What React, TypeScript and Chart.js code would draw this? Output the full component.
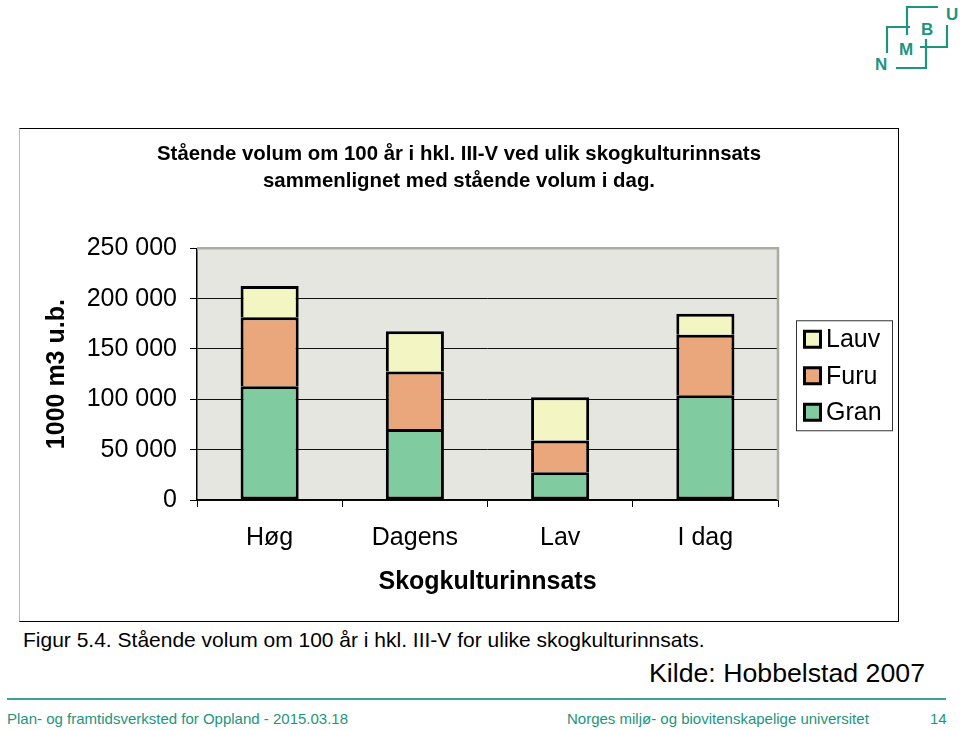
import React, { useEffect, useRef } from "react";
import { Chart, registerables } from "chart.js";

Chart.register(...registerables);

const categories = ["Høg", "Dagens", "Lav", "I dag"];
const granValues = [113000, 70500, 27500, 104000];
const furuValues = [68500, 57000, 31500, 60000];
const lauvValues = [31000, 40000, 43000, 21000];
const yTicks = [0, 50000, 100000, 150000, 200000, 250000];
const seriesNames = ["Gran", "Furu", "Lauv"];
const seriesColors = ["#80cba0", "#eba77c", "#f3f6c2"];

const titleLines = [
  "Stående volum om 100 år i hkl. III-V ved ulik skogkulturinnsats",
  "sammenlignet med stående volum i dag.",
];
const yTitle = "1000 m3 u.b.";
const xTitle = "Skogkulturinnsats";

const FONT = "'Liberation Sans', Arial, sans-serif";
const TEAL = "#1d957e";

const fmt = (v: number) => String(v).replace(/\B(?=(\d{3})+(?!\d))/g, " ");

const plotBg = {
  id: "plotBg",
  beforeDraw(chart: any) {
    const { ctx, chartArea: a } = chart;
    ctx.save();
    ctx.fillStyle = "#e4e6df";
    ctx.fillRect(a.left, a.top, a.right - a.left, a.bottom - a.top);
    ctx.restore();
  },
  beforeDatasetsDraw(chart: any) {
    const { ctx, chartArea: a } = chart;
    ctx.save();
    ctx.strokeStyle = "#a9ad9f";
    ctx.lineWidth = 2.5;
    ctx.beginPath();
    ctx.moveTo(a.left, a.top);
    ctx.lineTo(a.right, a.top);
    ctx.lineTo(a.right, a.bottom);
    ctx.stroke();
    ctx.restore();
  },
};

const boxLegend = {
  id: "boxLegend",
  afterDraw(chart: any) {
    const { ctx, chartArea: a } = chart;
    const left = a.right + 18;
    const top = a.top + 72;
    const w = 96;
    const h = 110;
    ctx.save();
    ctx.fillStyle = "#ffffff";
    ctx.fillRect(left, top, w, h);
    ctx.strokeStyle = "#333";
    ctx.lineWidth = 1;
    ctx.strokeRect(left + 0.5, top + 0.5, w, h);
    const ds = chart.data.datasets.slice().reverse();
    ds.forEach((d: any, i: number) => {
      const cy = top + 19 + i * 36.5;
      ctx.fillStyle = d.backgroundColor;
      ctx.fillRect(left + 8, cy - 8.5, 17, 17);
      ctx.strokeStyle = "#000";
      ctx.lineWidth = 3;
      ctx.strokeRect(left + 8.5, cy - 8, 16, 16);
      ctx.fillStyle = "#000";
      ctx.font = `25px ${FONT}`;
      ctx.textBaseline = "middle";
      ctx.textAlign = "left";
      ctx.fillText(d.label, left + 30, cy + 1);
    });
    ctx.restore();
  },
};

function StackedChart() {
  const ref = useRef<HTMLCanvasElement | null>(null);
  useEffect(() => {
    if (!ref.current) return;
    const values = [granValues, furuValues, lauvValues];
    const chart = new Chart(ref.current, {
      type: "bar",
      data: {
        labels: categories,
        datasets: seriesNames.map((name, i) => ({
          label: name,
          data: values[i],
          backgroundColor: seriesColors[i],
          borderColor: "#000",
          borderWidth: i === 0 ? 3 : { top: 3, left: 3, right: 3, bottom: 0 },
          borderSkipped: false,
          barPercentage: 0.4,
          categoryPercentage: 1,
        })),
      },
      options: {
        animation: false,
        responsive: true,
        maintainAspectRatio: false,
        layout: { padding: { left: 0, right: 0, top: 0, bottom: 21 } },
        plugins: {
          legend: { display: false },
          tooltip: { enabled: false },
          title: {
            display: true,
            text: titleLines,
            color: "#000",
            font: { family: FONT, size: 20.4, weight: "bold", lineHeight: 1.33 },
            padding: { top: 12, bottom: 53 },
          },
        },
        scales: {
          x: {
            stacked: true,
            offset: true,
            grid: {
              offset: true,
              drawOnChartArea: false,
              drawTicks: true,
              tickLength: 7,
              color: "#000",
              lineWidth: 1,
            },
            border: { display: true, color: "#000", width: 1.5 },
            ticks: {
              color: "#000",
              font: { family: FONT, size: 25 },
              padding: 16,
            },
            title: {
              display: true,
              text: xTitle,
              color: "#000",
              font: { family: FONT, size: 25, weight: "bold", lineHeight: 1.2 },
              padding: { top: 0, bottom: 3 },
            },
            afterFit(scale: any) {
              scale.height = 100;
            },
          },
          y: {
            stacked: true,
            min: 0,
            max: 250000,
            afterBuildTicks(scale: any) {
              scale.ticks = yTicks.map((v) => ({ value: v }));
            },
            grid: {
              color: (c: any) => (c.tick && c.tick.value === 250000 ? "rgba(0,0,0,0)" : "#111"),
              lineWidth: 1,
              drawTicks: true,
              tickLength: 7,
              tickColor: "#000",
            },
            border: { display: true, color: "#000", width: 1.5 },
            ticks: {
              color: "#000",
              font: { family: FONT, size: 25 },
              padding: 13,
              callback: (v: any) => fmt(Number(v)),
            },
            title: {
              display: true,
              text: yTitle,
              color: "#000",
              font: { family: FONT, size: 25, weight: "bold", lineHeight: 1.2 },
              padding: { top: 22, bottom: 0 },
            },
            afterFit(scale: any) {
              scale.width = 177;
            },
          },
          legendSpace: {
            type: "linear",
            position: "right",
            display: true,
            min: 0,
            max: 250000,
            grid: { drawOnChartArea: false, drawTicks: false },
            border: { display: false },
            ticks: { display: false },
            afterFit(scale: any) {
              scale.width = 120;
            },
          },
        },
      },
      plugins: [plotBg, boxLegend],
    } as any);
    return () => chart.destroy();
  }, []);
  return <canvas ref={ref} />;
}

function Logo() {
  const s = { stroke: TEAL, strokeWidth: 2.2, fill: "none" };
  const t = { fill: TEAL, fontFamily: FONT, fontWeight: "bold" as const, fontSize: 17 };
  return (
    <svg width="100" height="80" viewBox="860 0 100 80" style={{ position: "absolute", left: 860, top: 0 }}>
      <polyline points="938,7 907,7 907,35" {...s} />
      <polyline points="910,27 887,27 887,53" {...s} />
      <polyline points="947,25 947,47 920,47" {...s} />
      <polyline points="926,39 926,68 896,68" {...s} />
      <text x="921" y="35" {...t}>B</text>
      <text x="946" y="20" {...t}>U</text>
      <text x="899" y="55" {...t}>M</text>
      <text x="875" y="70" {...t}>N</text>
    </svg>
  );
}

export default function App() {
  return (
    <div style={{ position: "absolute", left: 0, top: 0, width: 960, height: 730, background: "#fff", overflow: "hidden", fontFamily: FONT }}>
      <Logo />
      <div
        style={{
          position: "absolute",
          left: 19,
          top: 128,
          width: 880,
          height: 494,
          boxSizing: "border-box",
          borderTop: "1px solid #000",
          borderRight: "1px solid #000",
          borderBottom: "1px solid #000",
          borderLeft: "1px solid #bbb",
        }}
      >
        <div style={{ position: "relative", width: 878, height: 492 }}>
          <StackedChart />
        </div>
      </div>
      <div style={{ position: "absolute", left: 23, top: 628, fontSize: 21, color: "#000", whiteSpace: "nowrap" }}>
        Figur 5.4. Stående volum om 100 år i hkl. III-V for ulike skogkulturinnsats.
      </div>
      <div style={{ position: "absolute", right: 35, top: 658, fontSize: 26.7, color: "#000", whiteSpace: "nowrap" }}>
        Kilde: Hobbelstad 2007
      </div>
      <div style={{ position: "absolute", left: 7, top: 698, width: 939, height: 2, background: "#3aa393" }} />
      <div style={{ position: "absolute", left: 7, top: 710, fontSize: 15, color: TEAL, whiteSpace: "nowrap" }}>
        Plan- og framtidsverksted for Oppland - 2015.03.18
      </div>
      <div style={{ position: "absolute", left: 567, top: 710, fontSize: 15, color: TEAL, whiteSpace: "nowrap" }}>
        Norges miljø- og biovitenskapelige universitet
      </div>
      <div style={{ position: "absolute", left: 930, top: 710, fontSize: 15, color: TEAL, whiteSpace: "nowrap" }}>
        14
      </div>
    </div>
  );
}
